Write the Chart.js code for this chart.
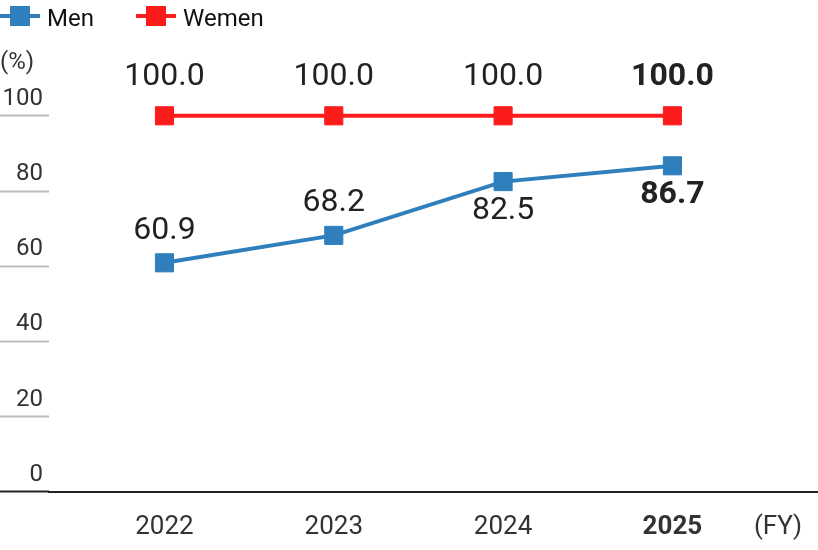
<!DOCTYPE html>
<html><head><meta charset="utf-8">
<script src="https://cdn.jsdelivr.net/npm/chart.js@4/dist/chart.umd.min.js"></script>
<style>
html,body{margin:0;padding:0;background:#fff;}
#wrap{position:relative;width:818px;height:550px;}
#legend{position:absolute;left:0;top:0;height:31px;display:flex;font-family:Roboto,sans-serif;font-size:24px;color:#111;}
.item{width:136px;height:31px;display:flex;align-items:center;}
.icon{position:relative;width:40px;height:20px;flex:none;}
.icon .ln{position:absolute;left:0;top:8px;width:40px;height:4px;}
.icon .sq{position:absolute;left:10px;top:0;width:20px;height:20px;}
.item span{margin-left:7px;position:relative;top:2px;white-space:nowrap;}
</style></head>
<body><div id="wrap"><canvas id="c" width="818" height="550"></canvas><div id="legend"></div></div>
<script>
const years = ['2022', '2023', '2024', '2025'];
const menValues = [60.9, 68.2, 82.5, 86.7];
const womenValues = [100.0, 100.0, 100.0, 100.0];
const yTickValues = [0, 20, 40, 60, 80, 100];
const unitLabel = '(%)';
const periodLabel = '(FY)';
const seriesNames = ['Men', 'Wemen'];

const blue = '#2f7fbd';
const red = '#fd1c1c';
const FONT = 'Roboto';

const valueLabelPlugin = {
  id: 'valueLabels',
  afterDatasetsDraw(chart) {
    const c = chart.ctx;
    chart.data.datasets.forEach((ds, di) => {
      const meta = chart.getDatasetMeta(di);
      meta.data.forEach((pt, i) => {
        const v = ds.data[i].y;
        const below = ds.label === seriesNames[0] && v > 80;
        const off = ds.label === seriesNames[1] ? -39 : (below ? 29 : -32);
        c.save();
        c.font = (i === years.length - 1 ? 'bold ' : '') + '32px ' + FONT;
        c.fillStyle = '#222';
        c.textAlign = 'center';
        c.textBaseline = 'middle';
        c.fillText(v.toFixed(1), pt.x, pt.y + off);
        c.restore();
      });
    });
  }
};

function lineDataset(label, values, color) {
  return {
    label: label,
    data: values.map((v, i) => ({ x: i, y: v })),
    borderColor: color,
    backgroundColor: color,
    pointBackgroundColor: color,
    pointBorderColor: color,
    borderWidth: 4,
    pointStyle: 'rect',
    pointRadius: 12.8,
    pointHoverRadius: 12.8,
    pointBorderWidth: 1,
    tension: 0,
    clip: false
  };
}

const chart = new Chart(document.getElementById('c'), {
  type: 'line',
  data: {
    datasets: [
      lineDataset(seriesNames[0], menValues, blue),
      lineDataset(seriesNames[1], womenValues, red)
    ]
  },
  options: {
    responsive: false,
    animation: false,
    events: [],
    layout: { autoPadding: false, padding: { left: 0, right: 1, top: 0, bottom: -5 } },
    plugins: {
      legend: { display: false },
      tooltip: { enabled: false },
      title: {
        display: true,
        text: unitLabel,
        align: 'start',
        color: '#333',
        font: { family: FONT, size: 24, weight: 'normal' },
        padding: { top: 49, bottom: 38 }
      }
    },
    scales: {
      x: {
        type: 'linear',
        min: -0.682,
        max: 3.854,
        grid: { display: false },
        border: { display: true, color: '#222', width: 2 },
        afterBuildTicks: (s) => {
          s.ticks = years.map((y, i) => ({ value: i })).concat([{ value: 3.624 }]);
        },
        afterFit: (s) => { s.paddingLeft = 0; s.paddingRight = 0; },
        ticks: {
          padding: 12,
          autoSkip: false,
          maxRotation: 0,
          color: '#333',
          font: (c) => ({ family: FONT, size: 26, weight: c.index === years.length - 1 ? 'bold' : 'normal' }),
          callback: (v, i) => (i < years.length ? years[i] : periodLabel)
        }
      },
      y: {
        min: 0,
        max: 100,
        afterBuildTicks: (s) => { s.ticks = yTickValues.map((v) => ({ value: v })); },
        afterFit: (s) => { s.width = 49; },
        border: { display: false },
        grid: {
          drawOnChartArea: false,
          drawTicks: true,
          tickLength: 49,
          tickWidth: 2,
          tickColor: (c) => (c.tick && c.tick.value === 0 ? '#222' : '#bdbdbd')
        },
        ticks: {
          padding: -43,
          labelOffset: -17,
          color: '#333',
          font: { family: FONT, size: 24 }
        }
      }
    }
  },
  plugins: [valueLabelPlugin]
});

// HTML legend built from the chart datasets
const legendEl = document.getElementById('legend');
chart.data.datasets.forEach((ds) => {
  const item = document.createElement('div');
  item.className = 'item';
  const icon = document.createElement('div');
  icon.className = 'icon';
  const ln = document.createElement('div');
  ln.className = 'ln';
  ln.style.background = ds.borderColor;
  const sq = document.createElement('div');
  sq.className = 'sq';
  sq.style.background = ds.borderColor;
  icon.appendChild(ln);
  icon.appendChild(sq);
  const t = document.createElement('span');
  t.textContent = ds.label;
  item.appendChild(icon);
  item.appendChild(t);
  legendEl.appendChild(item);
});
</script>
</body></html>
